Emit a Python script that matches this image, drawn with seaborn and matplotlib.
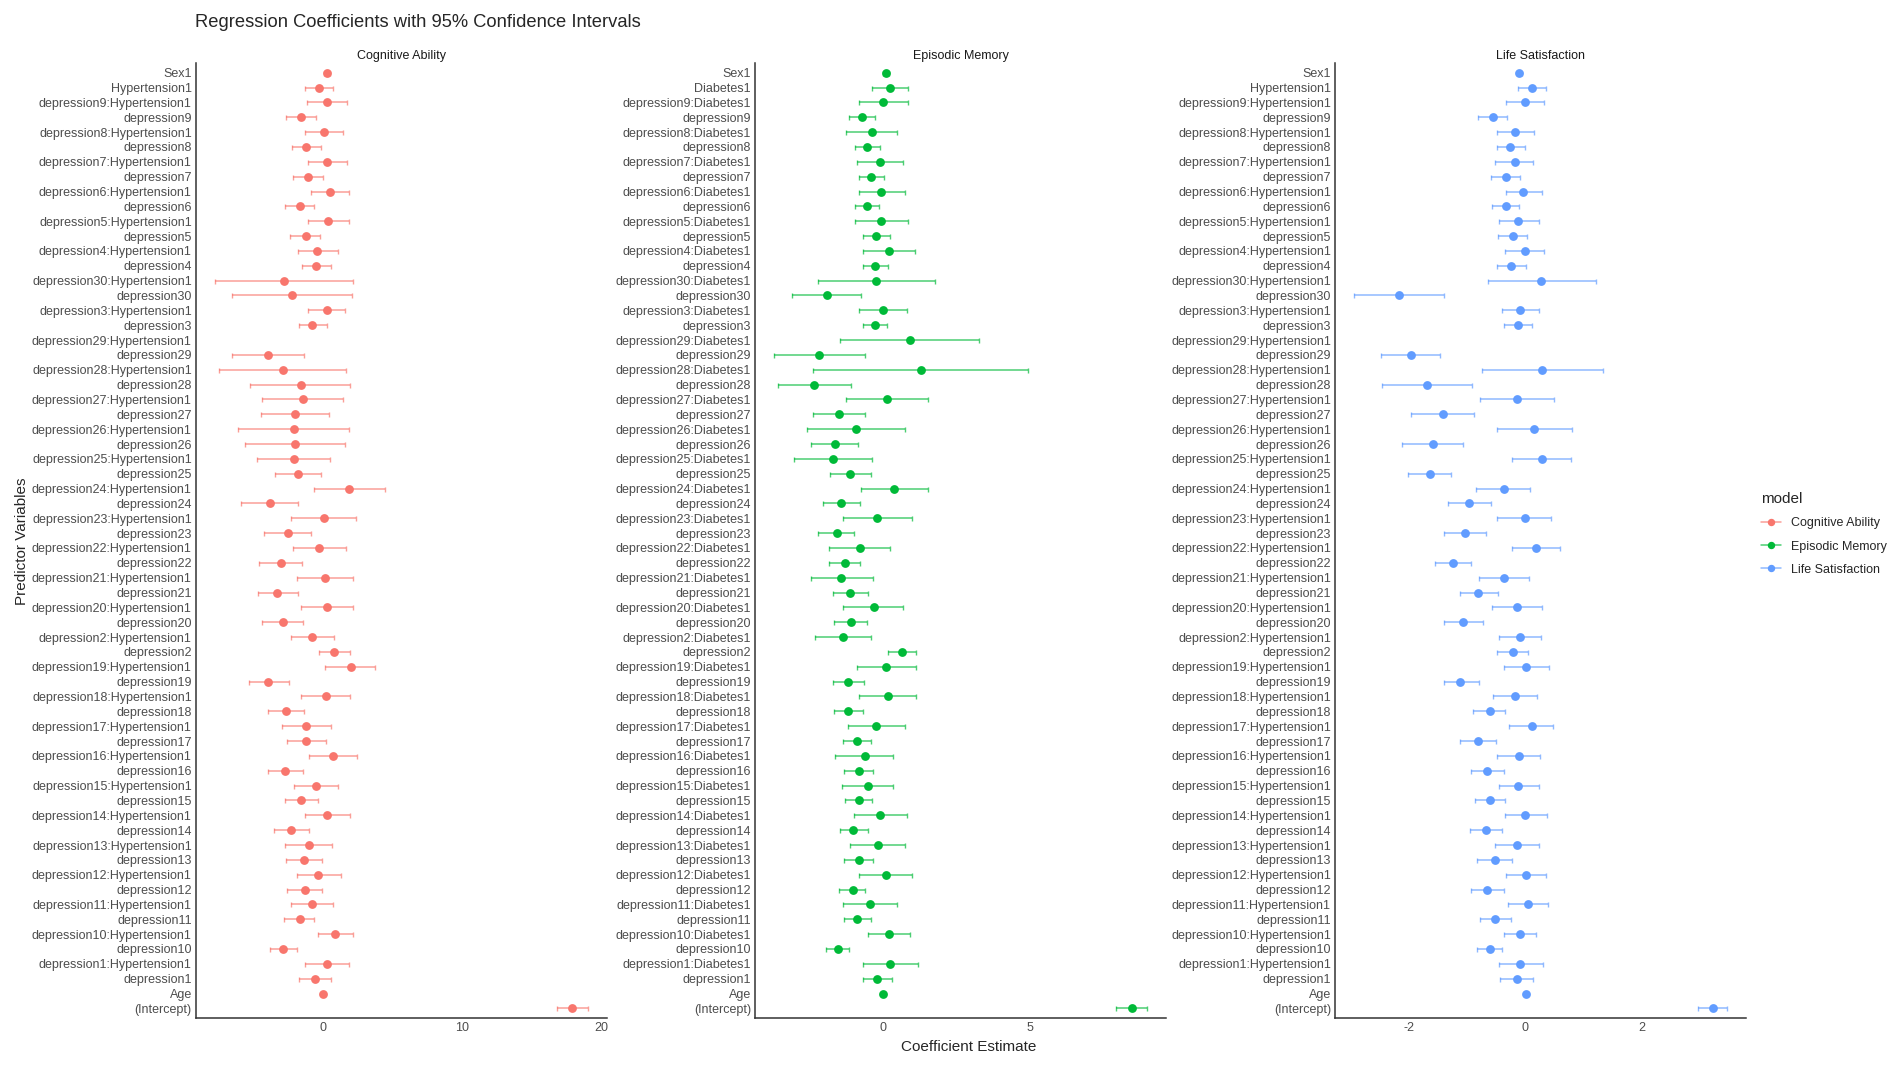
import numpy as np
import pandas as pd
import matplotlib
matplotlib.use("Agg")
import matplotlib.pyplot as plt
from matplotlib.lines import Line2D
from matplotlib.ticker import MultipleLocator
import seaborn as sns


# model names and colours (ggplot default hue)
models = ["Cognitive Ability", "Episodic Memory", "Life Satisfaction"]
colors = ["#F8766D", "#00BA38", "#619CFF"]
covariates = ["Hypertension1", "Diabetes1", "Hypertension1"]

# depression levels in the order they appear (top to bottom)
depression_levels = ["9", "8", "7", "6", "5", "4", "30", "3", "29", "28",
                     "27", "26", "25", "24", "23", "22", "21", "20", "2", "19",
                     "18", "17", "16", "15", "14", "13", "12", "11", "10", "1"]

# rows: Sex1, covariate, then depressionN:covariate / depressionN pairs, Age, (Intercept)
cog_est = [0.29, -0.29,
           0.29, -1.54, 0.06, -1.20, 0.29, -1.06, 0.51, -1.66, 0.40, -1.23, -0.40, -0.46,
           -2.77, -2.23, 0.29, -0.74, np.nan, -3.91, -2.89, -1.60, -1.43, -1.97,
           -2.09, -2.03, -2.09, -1.77, 1.89, -3.77, 0.06, -2.51, -0.29, -3.00,
           0.17, -3.26, 0.29, -2.89, -0.74, 0.83, 2.00, -3.91, 0.23, -2.66,
           -1.20, -1.20, 0.71, -2.71, -0.51, -1.54, 0.29, -2.29, -1.00, -1.37,
           -0.34, -1.31, -0.80, -1.66, 0.89, -2.83, 0.29, -0.57,
           0.00, 17.94]
cog_low = [0.10, -1.26,
           -1.14, -2.66, -1.31, -2.23, -1.06, -2.11, -0.83, -2.71, -1.06, -2.37, -1.77, -1.49,
           -7.77, -6.54, -1.06, -1.74, np.nan, -6.49, -7.49, -5.20, -4.34, -4.43,
           -6.09, -5.57, -4.71, -3.46, -0.63, -5.89, -2.29, -4.23, -2.14, -4.57,
           -1.86, -4.69, -1.57, -4.34, -2.29, -0.26, 0.17, -5.31, -1.57, -3.91,
           -2.94, -2.57, -1.00, -3.91, -2.06, -2.71, -1.31, -3.51, -2.71, -2.66,
           -1.86, -2.60, -2.29, -2.80, -0.34, -3.80, -1.26, -1.74,
           -0.05, 16.86]
cog_high = [0.50, 0.74,
            1.77, -0.46, 1.49, -0.14, 1.71, 0.00, 1.86, -0.66, 1.86, -0.17, 1.09, 0.60,
            2.20, 2.11, 1.57, 0.31, np.nan, -1.34, 1.66, 1.97, 1.49, 0.46,
            1.91, 1.60, 0.54, -0.14, 4.46, -1.77, 2.40, -0.86, 1.66, -1.51,
            2.14, -1.77, 2.20, -1.40, 0.80, 1.97, 3.77, -2.43, 1.97, -1.34,
            0.60, 0.26, 2.46, -1.40, 1.06, -0.34, 1.97, -1.00, 0.66, -0.06,
            1.29, -0.06, 0.74, -0.60, 2.17, -1.86, 1.86, 0.60,
            0.05, 19.09]

epi_est = [0.08, 0.22,
           0.00, -0.73, -0.39, -0.56, -0.13, -0.42, -0.07, -0.56, -0.07, -0.24, 0.18, -0.27,
           -0.24, -1.91, 0.00, -0.30, 0.91, -2.20, 1.29, -2.35, 0.11, -1.51,
           -0.94, -1.66, -1.71, -1.13, 0.37, -1.43, -0.21, -1.59, -0.79, -1.30,
           -1.43, -1.13, -0.32, -1.11, -1.37, 0.63, 0.08, -1.20, 0.14, -1.20,
           -0.24, -0.90, -0.64, -0.84, -0.54, -0.84, -0.10, -1.02, -0.18, -0.84,
           0.08, -1.05, -0.47, -0.90, 0.19, -1.56, 0.23, -0.21,
           -0.03, 8.45]
epi_low = [-0.03, -0.39,
           -0.84, -1.16, -1.26, -0.97, -0.90, -0.82, -0.84, -0.97, -0.97, -0.68, -0.71, -0.71,
           -2.21, -3.11, -0.82, -0.71, -1.46, -3.73, -2.39, -3.60, -1.26, -2.41,
           -2.61, -2.45, -3.05, -1.80, -0.76, -2.07, -1.37, -2.21, -1.84, -1.86,
           -2.47, -1.71, -1.37, -1.69, -2.33, 0.14, -0.90, -1.71, -0.84, -1.69,
           -1.19, -1.39, -1.63, -1.35, -1.40, -1.29, -0.99, -1.48, -1.14, -1.35,
           -0.82, -1.52, -1.37, -1.35, -0.54, -1.94, -0.71, -0.71,
           -0.06, 7.92]
epi_high = [0.19, 0.83,
            0.83, -0.29, 0.46, -0.11, 0.68, 0.03, 0.72, -0.16, 0.83, 0.22, 1.07, 0.17,
            1.77, -0.75, 0.81, 0.11, 3.26, -0.63, 4.93, -1.10, 1.50, -0.64,
            0.75, -0.87, -0.38, -0.43, 1.50, -0.78, 0.96, -0.99, 0.23, -0.78,
            -0.34, -0.51, 0.68, -0.55, -0.41, 1.10, 1.10, -0.65, 1.12, -0.70,
            0.75, -0.41, 0.34, -0.35, 0.34, -0.38, 0.81, -0.51, 0.75, -0.35,
            0.96, -0.61, 0.45, -0.43, 0.90, -1.18, 1.19, 0.29,
            0.00, 8.98]

life_est = [-0.10, 0.12,
            -0.01, -0.55, -0.17, -0.26, -0.18, -0.33, -0.03, -0.33, -0.12, -0.21, -0.01, -0.25,
            0.28, -2.17, -0.09, -0.13, np.nan, -1.96, 0.29, -1.69, -0.14, -1.41,
            0.16, -1.58, 0.29, -1.64, -0.37, -0.96, -0.01, -1.03, 0.19, -1.24,
            -0.36, -0.80, -0.14, -1.06, -0.09, -0.21, 0.02, -1.11, -0.17, -0.61,
            0.11, -0.80, -0.10, -0.65, -0.12, -0.60, 0.00, -0.67, -0.14, -0.52,
            0.02, -0.65, 0.05, -0.52, -0.09, -0.61, -0.09, -0.14,
            0.02, 3.22]
life_low = [-0.14, -0.12,
            -0.33, -0.80, -0.49, -0.49, -0.51, -0.58, -0.33, -0.56, -0.45, -0.47, -0.35, -0.49,
            -0.64, -2.94, -0.39, -0.36, np.nan, -2.47, -0.74, -2.46, -0.77, -1.95,
            -0.49, -2.12, -0.22, -2.01, -0.84, -1.32, -0.48, -1.39, -0.22, -1.54,
            -0.79, -1.12, -0.57, -1.39, -0.45, -0.49, -0.37, -1.39, -0.55, -0.89,
            -0.28, -1.11, -0.48, -0.93, -0.45, -0.86, -0.35, -0.94, -0.52, -0.83,
            -0.33, -0.92, -0.29, -0.77, -0.36, -0.82, -0.45, -0.43,
            0.00, 2.97]
life_high = [-0.05, 0.36,
             0.32, -0.31, 0.16, -0.01, 0.14, -0.09, 0.29, -0.10, 0.23, 0.04, 0.32, 0.01,
             1.21, -1.39, 0.23, 0.11, np.nan, -1.46, 1.33, -0.91, 0.49, -0.88,
             0.81, -1.06, 0.79, -1.27, 0.09, -0.58, 0.45, -0.67, 0.60, -0.92,
             0.06, -0.47, 0.29, -0.72, 0.28, 0.05, 0.41, -0.79, 0.20, -0.34,
             0.47, -0.50, 0.26, -0.37, 0.24, -0.34, 0.37, -0.39, 0.24, -0.22,
             0.36, -0.37, 0.39, -0.25, 0.18, -0.40, 0.30, 0.14,
             0.04, 3.47]


def term_names(cov):
    terms = ["Sex1", cov]
    for lvl in depression_levels:
        terms += [f"depression{lvl}:{cov}", f"depression{lvl}"]
    return terms + ["Age", "(Intercept)"]


def build_frame():
    parts = []
    values = [(cog_est, cog_low, cog_high), (epi_est, epi_low, epi_high),
              (life_est, life_low, life_high)]
    for model, cov, (est, low, high) in zip(models, covariates, values):
        parts.append(pd.DataFrame({"model": model, "term": term_names(cov),
                                   "estimate": est, "conf.low": low, "conf.high": high}))
    return pd.concat(parts, ignore_index=True)


def main():
    df = build_frame()

    sns.set_style("white")
    plt.rcParams["font.family"] = ["Liberation Sans", "DejaVu Sans"]
    plt.rcParams["axes.unicode_minus"] = False

    fig = plt.figure(figsize=(19.01, 10.65), dpi=100)
    lefts = [0.1031, 0.3972, 0.7023]
    steps = [10, 5, 2]

    for i, model in enumerate(models):
        ax = fig.add_axes([lefts[i], 0.0441, 0.2162, 0.8967])
        sub = df[df["model"] == model].reset_index(drop=True)
        order = list(sub["term"])

        ok = sub["estimate"].notna()
        ypos = np.arange(len(sub))[ok]
        est = sub.loc[ok, "estimate"].values
        ax.errorbar(est, ypos,
                    xerr=[est - sub.loc[ok, "conf.low"].values, sub.loc[ok, "conf.high"].values - est],
                    fmt="none", ecolor=colors[i], alpha=0.7, elinewidth=1.1,
                    capsize=1.8, capthick=1.0, zorder=1)
        sns.pointplot(data=sub, x="estimate", y="term", order=order, color=colors[i],
                      errorbar=None, linestyle="none", marker="o", markersize=4.3,
                      ax=ax, zorder=3)

        lo = np.nanmin(sub["conf.low"])
        hi = np.nanmax(sub["conf.high"])
        pad = 0.05 * (hi - lo)
        ax.set_xlim(lo - pad, hi + pad)
        ax.set_ylim(len(order) - 0.35, -0.65)
        ax.xaxis.set_major_locator(MultipleLocator(steps[i]))

        ax.set_xlabel("")
        ax.set_ylabel("")
        ax.set_title(model, fontsize=9, color="#1A1A1A", pad=3)
        for side in ["top", "right"]:
            ax.spines[side].set_visible(False)
        for side in ["left", "bottom"]:
            ax.spines[side].set_color("#333333")
            ax.spines[side].set_linewidth(1.1)
        ax.tick_params(axis="both", length=0, labelsize=9, labelcolor="#4D4D4D", pad=3)
        ax.grid(False)

    fig.text(0.1026, 0.979, "Regression Coefficients with 95% Confidence Intervals",
             fontsize=13.2, va="center", ha="left")
    fig.text(0.0116, 0.492, "Predictor Variables", rotation=90, fontsize=11,
             va="center", ha="center")
    fig.text(0.5097, 0.0169, "Coefficient Estimate", fontsize=11, va="center", ha="center")

    handles = []
    for c in colors:
        line = Line2D([], [], color=c, alpha=0.7, linewidth=1.1)
        dot = Line2D([], [], color=c, marker="o", markersize=4.3, linestyle="none")
        handles.append((line, dot))
    fig.legend(handles, models, title="model", loc="upper left",
               bbox_to_anchor=(0.9264, 0.538), frameon=False, fontsize=9,
               title_fontsize=11, handlelength=1.6, handletextpad=0.8,
               labelspacing=0.9, borderpad=0, borderaxespad=0, alignment="left")

    fig.savefig("out.png", dpi=100)


if __name__ == "__main__":
    main()
